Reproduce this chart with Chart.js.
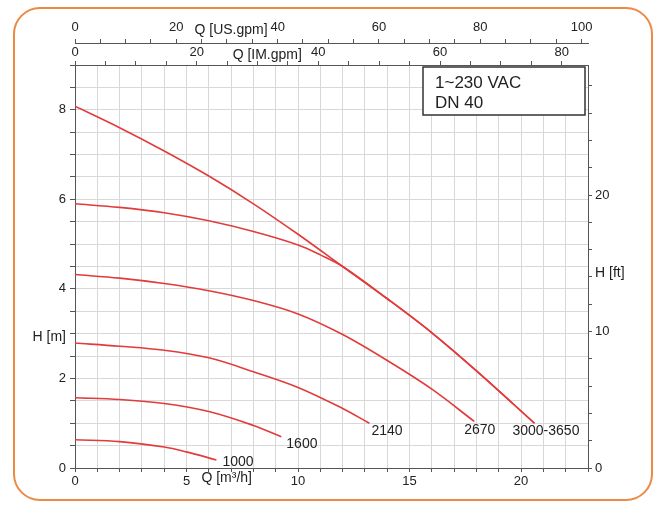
<!DOCTYPE html>
<html>
<head>
<meta charset="utf-8">
<script src="https://cdn.jsdelivr.net/npm/chart.js@4.4.1/dist/chart.umd.min.js"></script>
<style>
  html, body { margin: 0; padding: 0; background: #fff; }
  canvas { display: block; }
</style>
</head>
<body>
<canvas id="myChart" width="656" height="508"></canvas>
<script>
// pump curves, Q in m3/h, H in m
const q1000 = [0, 2, 4, 5, 6.34]
const h1000 = [0.63, 0.59, 0.47, 0.36, 0.18]
const q1600 = [0, 2, 4, 6, 8, 9.25]
const h1600 = [1.57, 1.53, 1.44, 1.26, 0.95, 0.70]
const q2140 = [0, 2, 4, 6, 8, 10, 12, 13.2]
const h2140 = [2.79, 2.72, 2.63, 2.46, 2.15, 1.8, 1.33, 1.0]
const q2670 = [0, 2, 4, 6, 8, 10, 12, 14, 16, 17.9]
const h2670 = [4.32, 4.24, 4.12, 3.96, 3.74, 3.44, 2.98, 2.4, 1.76, 1.04]
const q3000 = [0, 2, 4, 6, 8, 10, 11, 12, 14, 16, 18, 20.6]
const h3000 = [5.9, 5.82, 5.7, 5.52, 5.28, 4.98, 4.76, 4.5, 3.78, 3.02, 2.17, 1.0]
const q3650 = [0, 2, 4, 6, 8, 10, 12, 14, 16, 18, 20.6]
const h3650 = [8.08, 7.6, 7.08, 6.52, 5.9, 5.22, 4.5, 3.78, 3.02, 2.17, 1.0]

const curveNames = ['1000', '1600', '2140', '2670', '', '3000-3650']

// tick labels
const qLabels = [0, 5, 10, 15, 20]
const hLabels = [0, 2, 4, 6, 8]
const ftLabels = [0, 10, 20]
const usLabels = [0, 20, 40, 60, 80, 100]
const imLabels = [0, 20, 40, 60, 80]

const boxLines = ['1~230 VAC', 'DN 40']

const Q_MAX = 23
const H_MAX = 9
const TO_USGPM = 4.4029
const TO_IMGPM = 3.6662
const TO_FT = 3.2808

// label offsets from curve end (px)
const nameOffsets = [[6, 2], [5, 7], [2, 8], [-10, 9], [0, 0], [-22, 8]]

const FONT = 'Liberation Sans, Arial, sans-serif'
const RED = '#e23b3b'

const pts = (qs, hs) => qs.map((q, i) => ({ x: q, y: hs[i] }))
const pairs = [[q1000, h1000], [q1600, h1600], [q2140, h2140], [q2670, h2670], [q3000, h3000], [q3650, h3650]]

const labelOnly = list => v => list.includes(Math.round(v * 1000) / 1000) ? String(v) : ''

const extras = {
    id: 'extras',
    beforeDraw(chart) {
        const c = chart.ctx
        c.save()
        c.fillStyle = '#fff'
        c.fillRect(0, 0, chart.width, chart.height)
        c.strokeStyle = '#ec8a44'
        c.lineWidth = 2
        c.beginPath()
        c.roundRect(14, 8, 638, 492, 26)
        c.stroke()
        c.restore()
    },
    afterDatasetsDraw(chart) {
        const c = chart.ctx
        const s = chart.scales
        c.save()
        c.fillStyle = '#222'
        c.textBaseline = 'middle'

        // axis titles placed in the label rows
        c.font = '14px ' + FONT
        c.textAlign = 'center'
        c.fillText('Q [US.gpm]', s.xus.getPixelForValue(30.8), 30)
        c.fillText('Q [IM.gpm]', s.xim.getPixelForValue(31.6), 55)
        c.fillText('Q [m³/h]', s.x.getPixelForValue(6.8), 478)
        c.textAlign = 'right'
        c.fillText('H [m]', 66, s.y.getPixelForValue(2.92))
        c.textAlign = 'left'
        c.fillText('H [ft]', 595, s.yft.getPixelForValue(14.3))

        // curve names
        c.font = '14px ' + FONT
        chart.data.datasets.forEach((ds, i) => {
            if (!curveNames[i]) return
            const meta = chart.getDatasetMeta(i)
            const end = meta.data[meta.data.length - 1]
            c.fillText(curveNames[i], end.x + nameOffsets[i][0], end.y + nameOffsets[i][1])
        })

        // info box
        const a = chart.chartArea
        const bx = a.left + 348, by = a.top + 2, bw = 162, bh = 48
        c.fillStyle = '#fff'
        c.fillRect(bx, by, bw, bh)
        c.strokeStyle = '#333'
        c.lineWidth = 1.5
        c.strokeRect(bx, by, bw, bh)
        c.fillStyle = '#222'
        c.font = '17px ' + FONT
        c.textBaseline = 'alphabetic'
        c.fillText(boxLines[0], bx + 12, by + 21)
        c.fillText(boxLines[1], bx + 12, by + 41)
        c.restore()
    }
}

const tickFont = { family: FONT, size: 13 }

const createChart = () => {
    const ctx = document.getElementById('myChart')

    new Chart(ctx, {
        type: 'line',
        data: {
            datasets: pairs.map(([qs, hs]) => ({
                data: pts(qs, hs),
                borderColor: RED,
                borderWidth: 1.6,
                pointRadius: 0,
                fill: false,
                tension: 0.35
            }))
        },
        options: {
            responsive: false,
            animation: false,
            events: [],
            layout: { padding: 0 },
            plugins: { legend: { display: false }, tooltip: { enabled: false } },
            scales: {
                x: {
                    type: 'linear', position: 'bottom', min: 0, max: Q_MAX,
                    afterFit: sc => { sc.height = 40 },
                    grid: { color: '#d8d8d8', tickColor: '#555', tickLength: 4 },
                    border: { color: '#555' },
                    ticks: { stepSize: 1, autoSkip: false, maxRotation: 0, includeBounds: false, padding: 2,
                        color: '#222', font: tickFont, callback: labelOnly(qLabels) }
                },
                y: {
                    type: 'linear', position: 'left', min: 0, max: H_MAX,
                    afterFit: sc => { sc.width = 75 },
                    grid: { color: '#d8d8d8', tickColor: '#555', tickLength: 5 },
                    border: { color: '#555' },
                    ticks: { stepSize: 0.5, autoSkip: false, includeBounds: false, padding: 4,
                        color: '#222', font: tickFont, callback: labelOnly(hLabels) }
                },
                yft: {
                    type: 'linear', position: 'right', min: 0, max: H_MAX * TO_FT,
                    afterFit: sc => { sc.width = 68 },
                    grid: { drawOnChartArea: false, tickColor: '#555', tickLength: 4 },
                    border: { color: '#555' },
                    ticks: { stepSize: 2, autoSkip: false, includeBounds: false, padding: 3,
                        color: '#222', font: tickFont, callback: labelOnly(ftLabels) }
                },
                xim: {
                    type: 'linear', position: 'top', min: 0, max: Q_MAX * TO_IMGPM, weight: 1,
                    afterFit: sc => { sc.height = 22 },
                    grid: { drawOnChartArea: false, tickColor: '#555', tickLength: 4 },
                    border: { color: '#555' },
                    ticks: { stepSize: 5, autoSkip: false, maxRotation: 0, includeBounds: false, padding: 1,
                        color: '#222', font: tickFont, callback: labelOnly(imLabels) }
                },
                xus: {
                    type: 'linear', position: 'top', min: 0, max: Q_MAX * TO_USGPM, weight: 2,
                    afterFit: sc => { sc.height = 43 },
                    grid: { drawOnChartArea: false, tickColor: '#555', tickLength: 4 },
                    border: { color: '#555' },
                    ticks: { stepSize: 5, autoSkip: false, maxRotation: 0, includeBounds: false, padding: 4,
                        color: '#222', font: tickFont, callback: labelOnly(usLabels) }
                }
            }
        },
        plugins: [extras]
    })
}

createChart()
</script>
</body>
</html>
